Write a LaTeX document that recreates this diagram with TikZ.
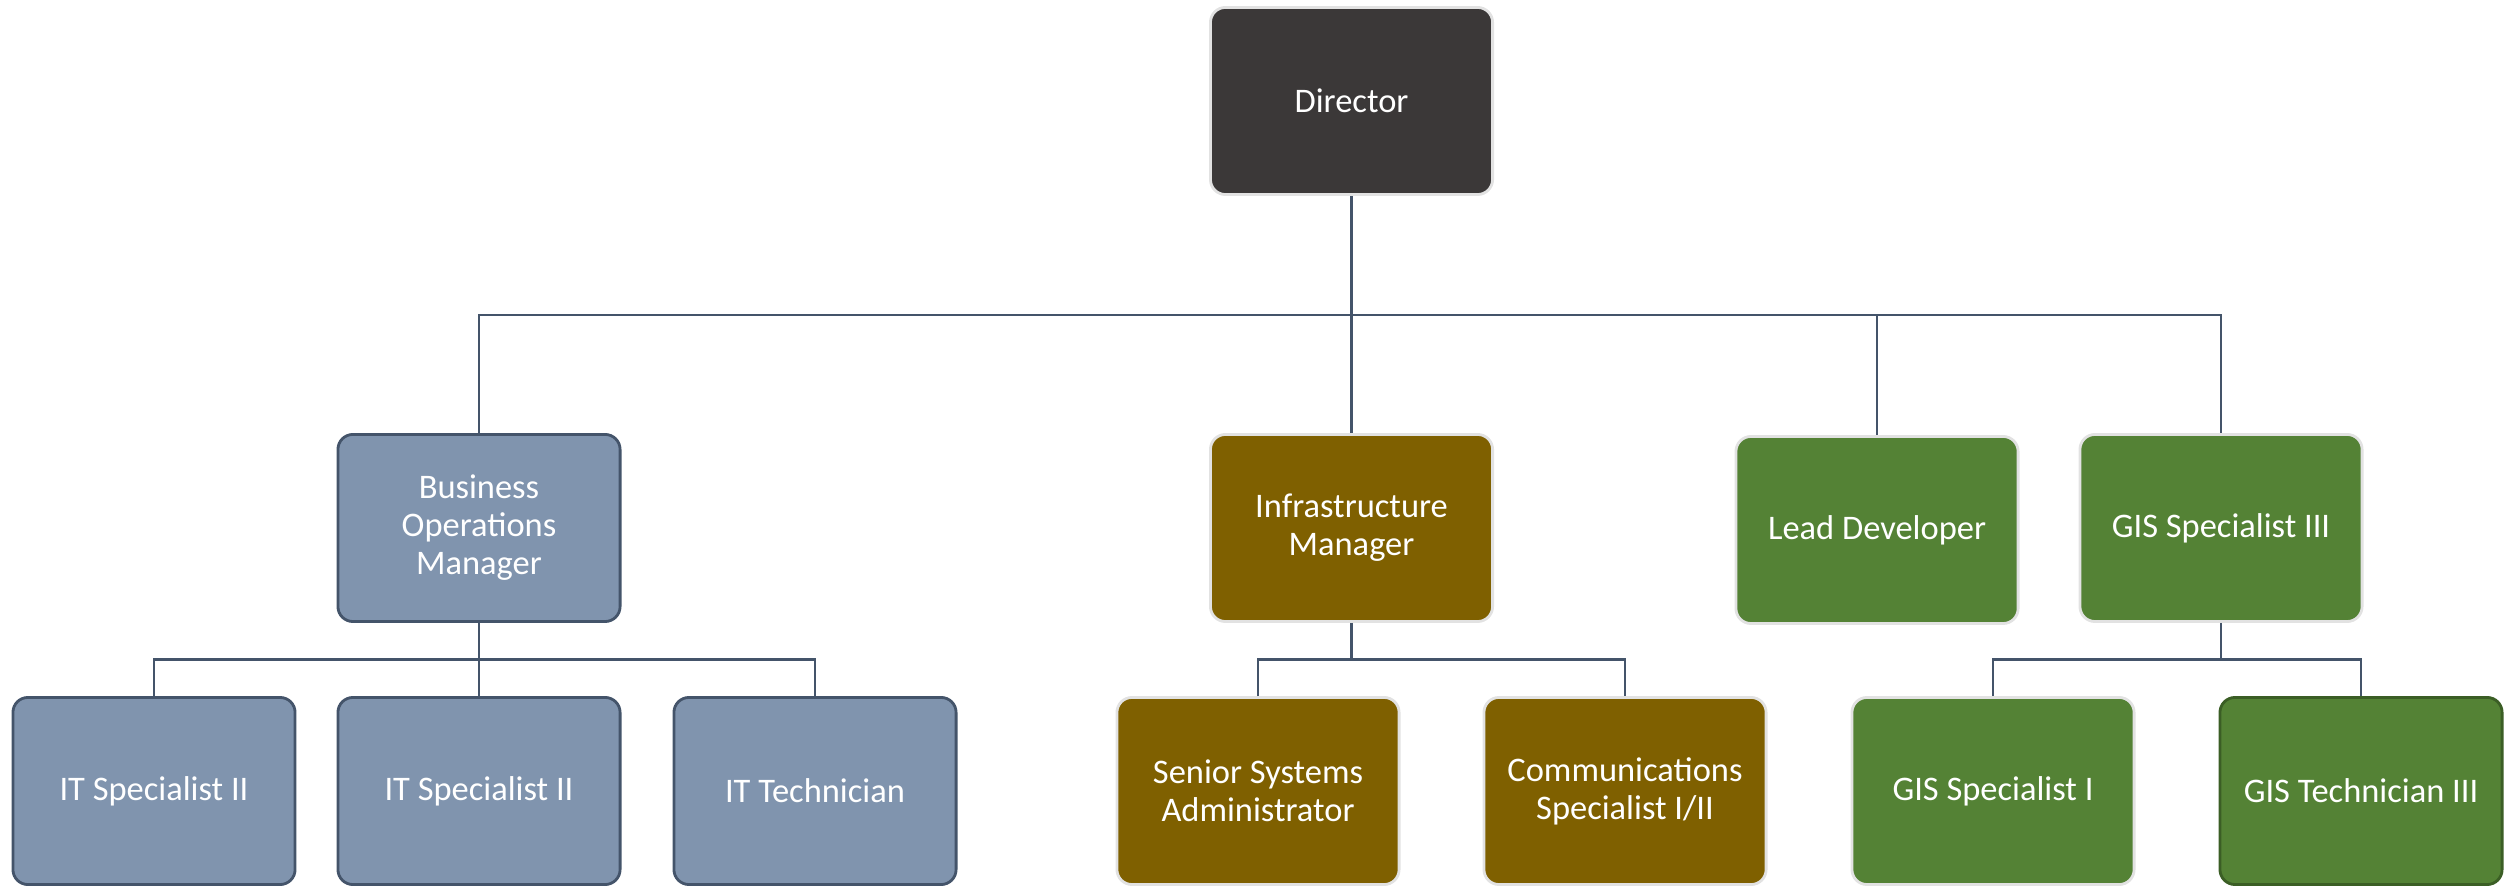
\documentclass[tikz,border=0pt]{standalone}
\usepackage{fontspec}
\setmainfont{Carlito}
\usetikzlibrary{calc}
\definecolor{bluefill}{HTML}{8094AE}
\definecolor{slate}{HTML}{44546A}
\definecolor{brownfill}{HTML}{7F6000}
\definecolor{greenfill}{HTML}{548235}
\definecolor{dirfill}{HTML}{3B3838}
\definecolor{lightedge}{HTML}{E2E2E2}
\definecolor{darkgreen}{HTML}{3B5E25}
\tikzset{
  box/.style={rounded corners=0.15cm, minimum width=2.82cm, minimum height=1.87cm,
    align=center, text=white, inner sep=2pt, line width=0.8pt,
    font=\fontsize{9.8}{10.8}\selectfont},
  dirbox/.style={box, fill=dirfill, draw=lightedge},
  bluebox/.style={box, fill=bluefill, draw=slate},
  brownbox/.style={box, fill=brownfill, draw=lightedge},
  greenbox/.style={box, fill=greenfill, draw=lightedge},
  link/.style={draw=slate, line width=0.8pt}
}
\begin{document}
\begin{tikzpicture}[x=0.01cm, y=-0.01cm]
\useasboundingbox (0,0) rectangle (2504,886);
% level 0
\node[dirbox] (dir) at (1351.5,101) {Director};
% level 1
\node[bluebox] (bom) at (479,528) {Business\\Operations\\Manager};
\node[brownbox] (inf) at (1351.5,528) {Infrastructure\\Manager};
\node[greenbox] (lead) at (1877,530) {Lead Developer};
\node[greenbox] (gis3) at (2221,528) {GIS Specialist III};
% level 2
\node[bluebox] (its1) at (154,791) {IT Specialist II};
\node[bluebox] (its2) at (479,791) {IT Specialist II};
\node[bluebox] (itt) at (815,791) {IT Technician};
\node[brownbox] (ssa) at (1258,791) {Senior Systems\\Administrator};
\node[brownbox] (comm) at (1625,791) {Communications\\Specialist I/II};
\node[greenbox] (gis1) at (1993,791) {GIS Specialist I};
\node[greenbox, draw=darkgreen] (gtech) at (2361,791) {GIS Technician III};
% connectors
\coordinate (bus) at (1351.5,315);
\draw[link] (dir.south) -- (inf.north);
\draw[link] (bom.north) |- (bus) -| (gis3.north);
\draw[link] (bus) -| (lead.north);
\draw[link] (bom.south) -- (its2.north);
\draw[link] (its1.north) |- ($(bom.south)!0.5!(its2.north)$) -| (itt.north);
\draw[link] (ssa.north) |- ($(inf.south)!0.5!(ssa.north)$) -| (comm.north);
\draw[link] (inf.south) -- ($(inf.south)!0.5!(inf.south|-ssa.north)$);
\draw[link] (gis1.north) |- ($(gis3.south)!0.5!(gis3.south|-gis1.north)$) -| (gtech.north);
\draw[link] (gis3.south) -- ($(gis3.south)!0.5!(gis3.south|-gis1.north)$);
\end{tikzpicture}
\end{document}
